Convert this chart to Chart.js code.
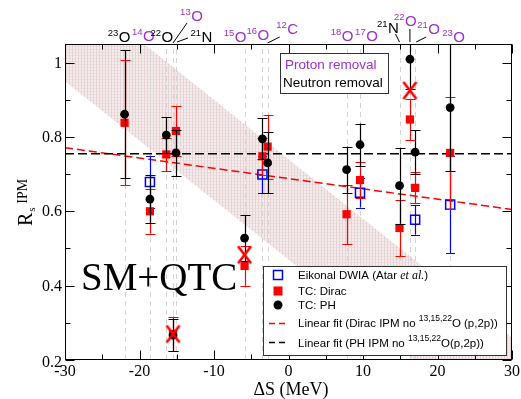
<!DOCTYPE html>
<html>
<head>
<meta charset="utf-8">
<script src="https://cdn.jsdelivr.net/npm/chart.js@4.4.1/dist/chart.umd.min.js"></script>
<style>
  html, body { margin: 0; padding: 0; background: #ffffff; }
  canvas { display: block; }
</style>
</head>
<body>
<canvas id="chart" width="521" height="399"></canvas>
<script>
// ΔS (MeV) of each measured knockout reaction
const isotopeDS = [-22.0, -18.6, -16.4, -15.5, -15.1, -5.9, -3.5, -2.8, 7.8, 9.6, 14.9, 16.3, 17.0, 21.7];

// Eikonal DWIA (Atar et al.)
const eikonalDS  = [-18.6, -3.5, 9.6, 17.0, 21.7];
const eikonalR   = [0.679, 0.699, 0.650, 0.577, 0.618];
const eikonalErr = [0.071, 0.050, 0.040, 0.040, 0.130];

// TC: Dirac
const diracDS  = [-22.0, -18.6, -16.4, -15.5, -15.1, -5.9, -3.5, -2.8, 7.8, 9.6, 14.9, 16.3, 17.0, 21.7];
const diracR   = [0.838, 0.600, 0.753, 0.270, 0.816, 0.453, 0.748, 0.774, 0.592, 0.684, 0.555, 0.847, 0.663, 0.757];
const diracErr = [0.168, 0.060, 0.045, 0.047, 0.067, 0.053, 0.050, 0.086, 0.080, 0.048, 0.075, 0.055, 0.042, 0.150];

// TC: PH
const phDS  = [-22.0, -18.6, -16.4, -15.5, -15.1, -5.9, -3.5, -2.8, 7.8, 9.6, 14.9, 16.3, 17.0, 21.7];
const phR   = [0.861, 0.633, 0.805, 0.267, 0.757, 0.528, 0.795, 0.730, 0.712, 0.779, 0.669, 1.009, 0.759, 0.879];
const phErr = [0.172, 0.064, 0.048, 0.044, 0.062, 0.061, 0.055, 0.082, 0.062, 0.057, 0.102, 0.080, 0.059, 0.171];

// 13,15,22O (p,2p) points left out of the fits
const excludedDS = [-15.5, -5.9, 16.3];
const excludedR  = [0.270, 0.483, 0.925];

// linear fits, evaluated at the axis ends
const fitDS    = [-30, 30];
const fitDirac = [0.771, 0.605];
const fitPH    = [0.755, 0.755];

// knockout systematics band, edges at the axis ends
const bandDS    = [-30, 30];
const bandUpper = [1.220, 0.260];
const bandLower = [0.950, -0.010];

// axis ticks
const xMajorTicks = [-30, -20, -10, 0, 10, 20, 30];
const xMinorTicks = [-25, -15, -5, 5, 15, 25];
const yMajorTicks = [0.2, 0.4, 0.6, 0.8, 1.0];
const yMinorTicks = [0.3, 0.5, 0.7, 0.9];
const yTickLabels = ['0.2', '0.4', '0.6', '0.8', '1'];

// reaction labels above the frame
const topLabels = [
  { ds: -22.0, mass: '23', sym: 'O', dx: 0,  y: 42, color: '#000000' },
  { ds: -18.6, mass: '14', sym: 'O', dx: -1, y: 41, color: '#9b30d0' },
  { ds: -16.4, mass: '22', sym: 'O', dx: 1,  y: 42, color: '#000000' },
  { ds: -15.5, mass: '13', sym: 'O', dx: 24, y: 21, color: '#9b30d0', lead: [0, 43, 14, 23] },
  { ds: -15.1, mass: '21', sym: 'N', dx: 31, y: 42, color: '#000000', lead: [1, 42, 12, 38] },
  { ds: -5.9,  mass: '15', sym: 'O', dx: -4, y: 42, color: '#9b30d0' },
  { ds: -3.5,  mass: '16', sym: 'O', dx: 1,  y: 40, color: '#9b30d0' },
  { ds: -2.8,  mass: '12', sym: 'C', dx: 25, y: 34, color: '#9b30d0', lead: [0, 43, 12, 37] },
  { ds: 7.8,   mass: '18', sym: 'O', dx: 1,  y: 41, color: '#9b30d0' },
  { ds: 9.6,   mass: '17', sym: 'O', dx: 12, y: 41, color: '#9b30d0' },
  { ds: 14.9,  mass: '21', sym: 'N', dx: -6, y: 33, color: '#000000', lead: [0, 42, -4, 34] },
  { ds: 16.3,  mass: '22', sym: 'O', dx: 1,  y: 26, color: '#9b30d0', lead: [0, 42, 0, 29] },
  { ds: 17.0,  mass: '21', sym: 'O', dx: 19, y: 34, color: '#9b30d0', lead: [1, 42, 11, 37] },
  { ds: 21.7,  mass: '23', sym: 'O', dx: 9,  y: 42, color: '#9b30d0' }
];

const PURPLE = '#9b30d0';
const SERIF = '"Liberation Serif", "Times New Roman", serif';
const SANS = '"Liberation Sans", Arial, sans-serif';

function pts(xs, ys) { return xs.map((x, i) => ({ x: x, y: ys[i] })); }

// fine hatched fill for the systematics band
function makeHatch() {
  const c = document.createElement('canvas');
  c.width = 3; c.height = 3;
  const g = c.getContext('2d');
  g.fillStyle = '#f5eded';
  g.fillRect(0, 0, 3, 3);
  g.fillStyle = '#e6d3d3';
  g.fillRect(0, 0, 1, 3);
  g.fillStyle = '#eddfdf';
  g.fillRect(1, 1, 2, 1);
  return g.createPattern(c, 'repeat');
}

// tall red cross marker
function makeCross() {
  const c = document.createElement('canvas');
  c.width = 17; c.height = 21;
  const g = c.getContext('2d');
  g.strokeStyle = '#ff0000';
  g.lineWidth = 2.6;
  g.beginPath();
  g.moveTo(2, 2); g.lineTo(15, 19);
  g.moveTo(15, 2); g.lineTo(2, 19);
  g.stroke();
  return c;
}

function drawErrors(chart, meta, ds) {
  const ctx = chart.ctx;
  const ys = chart.scales.y;
  const a = chart.chartArea;
  ctx.save();
  ctx.beginPath();
  ctx.rect(a.left, a.top, a.right - a.left, a.bottom - a.top);
  ctx.clip();
  ctx.strokeStyle = ds.errColor;
  ctx.lineWidth = 1.2;
  meta.data.forEach((el, i) => {
    const v = ds.data[i].y, e = ds.errors[i];
    const yTop = ys.getPixelForValue(v + e);
    const yBot = ys.getPixelForValue(v - e);
    const x = Math.round(el.x) + 0.5;
    const w = ds.capHalf;
    ctx.beginPath();
    ctx.moveTo(x, yTop); ctx.lineTo(x, yBot);
    ctx.moveTo(x - w, Math.round(yTop) + 0.5); ctx.lineTo(x + w, Math.round(yTop) + 0.5);
    ctx.moveTo(x - w, Math.round(yBot) + 0.5); ctx.lineTo(x + w, Math.round(yBot) + 0.5);
    ctx.stroke();
  });
  ctx.restore();
}

function drawGuides(chart) {
  const ctx = chart.ctx;
  const xs = chart.scales.x;
  const a = chart.chartArea;
  ctx.save();
  ctx.strokeStyle = '#d4d4d4';
  ctx.lineWidth = 1;
  ctx.setLineDash([5, 4]);
  isotopeDS.forEach(v => {
    const x = Math.round(xs.getPixelForValue(v)) + 0.5;
    ctx.beginPath();
    ctx.moveTo(x, a.bottom); ctx.lineTo(x, a.top);
    ctx.stroke();
  });
  ctx.restore();
}

function drawFrame(chart) {
  const ctx = chart.ctx;
  const a = chart.chartArea;
  const xs = chart.scales.x, ys = chart.scales.y;
  ctx.save();
  ctx.strokeStyle = '#000000';
  ctx.lineWidth = 1;
  const L = Math.round(a.left) + 0.5, R = Math.round(a.right) - 0.5;
  const T = Math.round(a.top) + 0.5, B = Math.round(a.bottom) - 0.5;
  ctx.strokeRect(L, T, R - L, B - T);
  ctx.beginPath();
  const xt = (v, len) => {
    const x = Math.round(xs.getPixelForValue(v)) + 0.5;
    ctx.moveTo(x, B); ctx.lineTo(x, B - len);
    ctx.moveTo(x, T); ctx.lineTo(x, T + len);
  };
  const yt = (v, len) => {
    const y = Math.round(ys.getPixelForValue(v)) + 0.5;
    ctx.moveTo(L, y); ctx.lineTo(L + len, y);
    ctx.moveTo(R, y); ctx.lineTo(R - len, y);
  };
  xMajorTicks.forEach(v => xt(v, 9));
  xMinorTicks.forEach(v => xt(v, 5));
  yMajorTicks.forEach(v => yt(v, 9));
  yMinorTicks.forEach(v => yt(v, 5));
  ctx.stroke();

  ctx.fillStyle = '#000000';
  ctx.font = '16px ' + SERIF;
  ctx.textAlign = 'center';
  ctx.textBaseline = 'alphabetic';
  xMajorTicks.forEach(v => {
    ctx.fillText(String(v), xs.getPixelForValue(v), 376);
  });
  ctx.textAlign = 'right';
  ctx.textBaseline = 'middle';
  yMajorTicks.forEach((v, i) => {
    const y = ys.getPixelForValue(v);
    ctx.fillText(yTickLabels[i], 62, i === 0 ? y + 3 : y + 1);
  });
  ctx.restore();
}

function drawTitles(chart) {
  const ctx = chart.ctx;
  ctx.save();
  ctx.fillStyle = '#000000';
  // x title
  ctx.font = '18px ' + SERIF;
  ctx.textAlign = 'center';
  ctx.textBaseline = 'alphabetic';
  ctx.fillText('ΔS (MeV)', 291, 395);
  // y title: R with subscript s and superscript IPM
  ctx.translate(32, 226);
  ctx.rotate(-Math.PI / 2);
  ctx.textAlign = 'left';
  ctx.font = '20px ' + SERIF;
  ctx.fillText('R', 0, 0);
  const rw = ctx.measureText('R').width;
  ctx.font = '11px ' + SERIF;
  ctx.fillText('s', rw + 1, 3);
  ctx.font = '14px ' + SERIF;
  ctx.fillText('IPM', rw + 9, -5);
  ctx.restore();
}

function drawTopLabels(chart) {
  const ctx = chart.ctx;
  const xs = chart.scales.x;
  ctx.save();
  ctx.textBaseline = 'alphabetic';
  topLabels.forEach(l => {
    const x0 = xs.getPixelForValue(l.ds);
    if (l.lead) {
      ctx.strokeStyle = '#000000';
      ctx.lineWidth = 1;
      ctx.beginPath();
      ctx.moveTo(x0 + l.lead[0], l.lead[1]);
      ctx.lineTo(x0 + l.lead[2], l.lead[3]);
      ctx.stroke();
    }
    const cx = x0 + l.dx;
    ctx.fillStyle = l.color;
    ctx.font = '15px ' + SANS;
    ctx.textAlign = 'center';
    ctx.fillText(l.sym, cx, l.y);
    const half = ctx.measureText(l.sym).width / 2;
    ctx.font = '9.5px ' + SANS;
    ctx.textAlign = 'right';
    ctx.fillText(l.mass, cx - half - 0.5, l.y - 6);
  });
  ctx.restore();
}

function drawLegend(chart) {
  const ctx = chart.ctx;
  ctx.save();
  // removal-type key
  ctx.fillStyle = '#ffffff';
  ctx.fillRect(280.5, 53.5, 108, 40);
  ctx.strokeStyle = '#333333';
  ctx.lineWidth = 1;
  ctx.strokeRect(280.5, 53.5, 108, 40);
  ctx.font = '13.5px ' + SANS;
  ctx.textAlign = 'left';
  ctx.textBaseline = 'alphabetic';
  ctx.fillStyle = PURPLE;
  ctx.fillText('Proton removal', 285, 69);
  ctx.fillStyle = '#000000';
  ctx.fillText('Neutron removal', 283, 87);

  // series key
  ctx.fillStyle = '#ffffff';
  ctx.fillRect(263.5, 266.5, 243, 89);
  ctx.strokeStyle = '#333333';
  ctx.strokeRect(263.5, 266.5, 243, 89);

  const sx = 278, tx = 298;
  // open blue square
  ctx.strokeStyle = '#0000ff';
  ctx.lineWidth = 1.5;
  ctx.strokeRect(sx - 4.5, 275 - 4.5, 9, 9);
  // red square
  ctx.fillStyle = '#ff0000';
  ctx.fillRect(sx - 4.5, 291 - 4.5, 9, 9);
  // black circle
  ctx.fillStyle = '#000000';
  ctx.beginPath(); ctx.arc(sx, 305, 4.5, 0, Math.PI * 2); ctx.fill();
  // dashed samples
  ctx.lineWidth = 1.5;
  ctx.setLineDash([6, 4]);
  ctx.strokeStyle = '#ff0000';
  ctx.beginPath(); ctx.moveTo(269, 323.5); ctx.lineTo(288, 323.5); ctx.stroke();
  ctx.strokeStyle = '#000000';
  ctx.beginPath(); ctx.moveTo(269, 342.5); ctx.lineTo(288, 342.5); ctx.stroke();
  ctx.setLineDash([]);

  ctx.fillStyle = '#000000';
  const f = '11.5px ' + SANS;
  let x;
  ctx.font = f;
  ctx.fillText('Eikonal DWIA (Atar ', tx, 279);
  x = tx + ctx.measureText('Eikonal DWIA (Atar ').width;
  ctx.font = 'italic 12px ' + SERIF;
  ctx.fillText('et al.', x, 279);
  x += ctx.measureText('et al.').width;
  ctx.font = f;
  ctx.fillText(')', x, 279);
  ctx.fillText('TC: Dirac', tx, 295);
  ctx.fillText('TC: PH', tx, 309);

  const supLine = (pre, post, y) => {
    ctx.font = f;
    ctx.fillText(pre, tx, y);
    let xx = tx + ctx.measureText(pre).width;
    ctx.font = '8.5px ' + SANS;
    ctx.fillText('13,15,22', xx, y - 6);
    xx += ctx.measureText('13,15,22').width;
    ctx.font = f;
    ctx.fillText(post, xx, y);
  };
  supLine('Linear fit (Dirac IPM no ', 'O (p,2p))', 327);
  supLine('Linear fit (PH IPM no ', 'O(p,2p))', 347);
  ctx.restore();
}

function drawStamp(chart) {
  const ctx = chart.ctx;
  ctx.save();
  ctx.fillStyle = '#000000';
  ctx.font = '39px ' + SERIF;
  ctx.textAlign = 'left';
  ctx.textBaseline = 'alphabetic';
  ctx.fillText('SM+QTC', 81, 290);
  ctx.restore();
}

const decor = {
  id: 'decor',
  beforeDatasetDraw(chart, args) {
    const ds = chart.data.datasets[args.index];
    if (ds.errors) drawErrors(chart, args.meta, ds);
  },
  afterDatasetDraw(chart, args) {
    if (chart.data.datasets[args.index].label === 'band lower') drawGuides(chart);
  },
  afterDatasetsDraw(chart) {
    drawFrame(chart);
  },
  afterDraw(chart) {
    drawStamp(chart);
    drawLegend(chart);
    drawTopLabels(chart);
    drawTitles(chart);
  }
};

const ctx = document.getElementById('chart').getContext('2d');
new Chart(ctx, {
  type: 'line',
  data: {
    datasets: [
      {
        label: 'band upper', data: pts(bandDS, bandUpper), order: 20,
        borderWidth: 0, pointRadius: 0, fill: false, showLine: true
      },
      {
        label: 'band lower', data: pts(bandDS, bandLower), order: 19,
        borderWidth: 0, pointRadius: 0, fill: '-1', backgroundColor: makeHatch(), showLine: true
      },
      {
        label: 'Linear fit Dirac', data: pts(fitDS, fitDirac), order: 12,
        borderColor: '#ff0000', borderWidth: 1.5, borderDash: [8, 4], pointRadius: 0, fill: false, showLine: true
      },
      {
        label: 'Linear fit PH', data: pts(fitDS, fitPH), order: 11,
        borderColor: '#000000', borderWidth: 1.5, borderDash: [9, 4], pointRadius: 0, fill: false, showLine: true
      },
      {
        label: 'Eikonal DWIA (Atar et al.)', data: pts(eikonalDS, eikonalR), order: 5, showLine: false,
        pointStyle: 'rect', pointRadius: 6.4, pointBorderWidth: 1.5,
        pointBorderColor: '#0000ff', pointBackgroundColor: 'rgba(0,0,0,0)',
        errors: eikonalErr, errColor: '#0000ff', capHalf: 4.5
      },
      {
        label: 'TC: Dirac', data: pts(diracDS, diracR), order: 4, showLine: false,
        pointStyle: 'rect', pointRadius: 5.8, pointBorderWidth: 0,
        pointBorderColor: '#ff0000', pointBackgroundColor: '#ff0000',
        errors: diracErr, errColor: '#ff0000', capHalf: 5
      },
      {
        label: 'TC: PH', data: pts(phDS, phR), order: 3, showLine: false,
        pointStyle: 'circle', pointRadius: 4.4, pointBorderWidth: 0,
        pointBorderColor: '#000000', pointBackgroundColor: '#000000',
        errors: phErr, errColor: '#000000', capHalf: 5
      },
      {
        label: 'excluded', data: pts(excludedDS, excludedR), order: 1, showLine: false,
        pointStyle: makeCross(), pointRadius: 8
      }
    ]
  },
  options: {
    responsive: false,
    animation: false,
    devicePixelRatio: 1,
    events: [],
    layout: { padding: { left: 65, right: 3.5, top: 44, bottom: 39 } },
    plugins: { legend: { display: false }, tooltip: { enabled: false }, title: { display: false } },
    scales: {
      x: { type: 'linear', min: -30, max: 30, display: false },
      y: { type: 'linear', min: 0.2, max: 1.05, display: false }
    }
  },
  plugins: [decor]
});
</script>
</body>
</html>
